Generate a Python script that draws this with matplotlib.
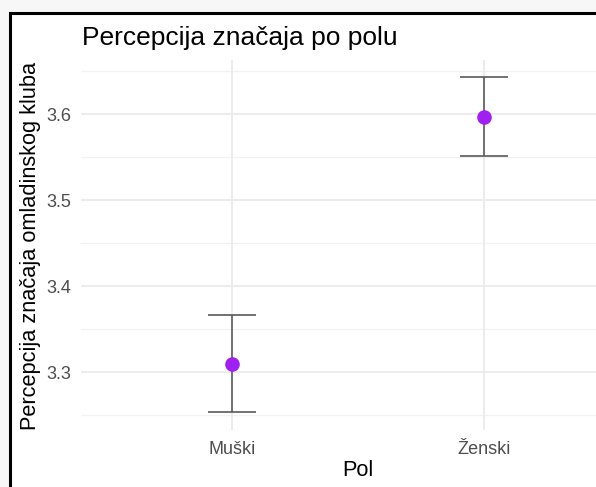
import numpy as np
import matplotlib
matplotlib.use("Agg")
import matplotlib.pyplot as plt
from matplotlib.patches import Rectangle

# data
groups = ["Muški", "Ženski"]
means = [3.309, 3.597]
lower = [3.253, 3.551]
upper = [3.366, 3.643]

plt.rcParams['font.family'] = ['Liberation Sans', 'DejaVu Sans']

W, H = 596, 487
fig = plt.figure(figsize=(W / 100, H / 100), dpi=100)
fig.patch.set_facecolor('#f7f7f7')

# white frame with black border (cropped at right/bottom)
fig.patches.append(Rectangle((10 / W, -0.1), 1.2, 1 - 13 / H + 0.1,
                             transform=fig.transFigure, facecolor='white',
                             edgecolor='black', linewidth=2.2, zorder=0))

# panel in pixel coords: left 81, right 635, top 60, bottom 430
ax = fig.add_axes([81 / W, 1 - 430 / H, (635 - 81) / W, (430 - 60) / H])
ax.set_zorder(2)
ax.set_facecolor('none')

x = np.arange(len(groups))
ax.set_xlim(-0.6, len(groups) - 1 + 0.6)
ax.set_ylim(3.2326, 3.6628)

for v in [3.25, 3.35, 3.45, 3.55, 3.65]:
    ax.axhline(v, color='#f2f2f2', lw=0.9, zorder=0)
for v in [3.3, 3.4, 3.5, 3.6]:
    ax.axhline(v, color='#ebebeb', lw=1.3, zorder=0)
for xi in x:
    ax.axvline(xi, color='#ebebeb', lw=1.3, zorder=0)

m = np.array(means)
yerr = [m - np.array(lower), np.array(upper) - m]
ax.errorbar(x, m, yerr=yerr, fmt='none', ecolor='#5a5a5a', elinewidth=1.2,
            capsize=17.5, capthick=1.2, zorder=2)
ax.plot(x, m, 'o', color='#a020f0', markersize=10.5, markeredgewidth=0, zorder=3)

ax.set_xticks(x)
ax.set_xticklabels(groups)
ax.set_yticks([3.3, 3.4, 3.5, 3.6])
ax.set_yticklabels(["3.3", "3.4", "3.5", "3.6"])
ax.tick_params(length=0, labelsize=13, labelcolor='#4d4d4d')
ax.tick_params(axis='y', pad=7)
ax.tick_params(axis='x', pad=8)
for s in ax.spines.values():
    s.set_visible(False)

fig.text(358 / W, 1 - 470 / H, "Pol", ha='center', va='center', fontsize=15.7)
fig.text(31 / W, 1 - 246 / H, "Percepcija značaja omladinskog kluba",
         ha='center', va='center', rotation=90, fontsize=15.7)
fig.text(82 / W, 1 - 38 / H, "Percepcija značaja po polu", ha='left',
         va='center', fontsize=19)

fig.savefig("out.png", dpi=100, facecolor=fig.get_facecolor())
